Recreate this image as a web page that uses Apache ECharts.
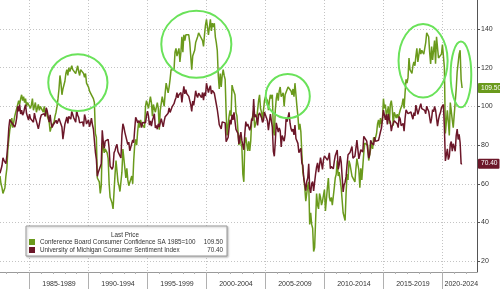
<!DOCTYPE html>
<html><head><meta charset="utf-8">
<script src="https://cdn.jsdelivr.net/npm/echarts@6/dist/echarts.min.js"></script>
<style>html,body{margin:0;padding:0;background:#fff}#c{width:500px;height:289px}</style>
</head><body><div id="c"></div>
<script>
const seriesNames = ['Conference Board Consumer Confidence SA 1985=100', 'University of Michigan Consumer Sentiment Index'];
const startYear = 1982, startMonth = 7;
// Conference Board, monthly from Jul 1982
const cbValues = [
64,60,58,55,56,58,
64,68,78,83,88,90,94,89,92,95,97,99,
100,103,101,104,106,103,105,102,104,100,102,101,
103,99,101,104,98,100,102,97,99,101,98,100,
99,101,97,100,96,98,95,96,92,87,89,88,
90,92,95,97,100,104,109,116,112,106,109,108,
113,117,119,116,120,118,117,121,119,118,120,117,
119,121,118,116,119,118,120,117,115,117,112,113,
110,108,109,106,107,104,102,86,84,63,62,61,
55,59,81,79,76,78,78,76,73,60,53,52,
50,47,56,65,72,73,61,59,56,55,66,78,
77,68,63,68,62,59,59,59,64,60,72,80,
83,80,87,92,89,93,91,90,90,89,100,103,
101,99,100,105,102,95,101,102,97,96,102,99,
88,98,98,105,104,100,107,112,112,107,110,114,
119,119,119,119,128,130,126,128,130,123,128,136,
128,137,134,137,136,138,137,133,126,119,126,127,
129,133,134,136,138,139,136,136,134,131,137,142,
145,141,137,138,145,139,143,141,143,136,133,129,
116,109,117,110,116,119,116,114,97,85,85,95,
98,95,111,109,110,106,97,95,94,80,85,81,
79,65,61,81,84,84,77,82,77,82,93,95,
98,89,89,93,93,103,106,99,97,93,93,103,
105,104,103,98,103,106,104,106,88,85,98,104,
107,103,108,110,105,105,107,100,106,105,105,110,
110,111,108,106,109,105,112,106,100,95,88,91,
87,76,66,63,58,51,52,59,61,39,45,39,
37,25,27,41,55,49,47,55,53,49,51,54,
57,46,52,58,63,53,51,53,49,50,58,63,
65,72,64,66,62,58,59,45,46,41,55,65,
62,72,70,69,64,63,65,61,68,73,72,67,
58,68,62,69,76,81,81,82,80,72,72,78,
81,78,84,82,83,86,91,93,89,94,91,93,
104,99,101,95,95,100,91,101,103,99,90,97,
98,94,96,94,93,98,97,101,104,99,107,114,
112,115,125,119,118,117,121,123,121,126,130,123,
124,130,127,129,128,127,127,133,138,138,136,128,
122,131,124,129,134,122,136,135,125,126,126,127,
132,131,120,86,86,98,92,85,102,101,93,89,
89,90,109,118,117,127,129,114,109.5
];
// University of Michigan, monthly from Jul 1982
const umValues = [
65.4,65.4,69.3,73.4,72.1,71.9,
70.4,74.6,80.8,89.1,93.3,92.2,92.8,90.9,89.9,89.3,91.1,94.2,
100.1,97.4,101.0,96.1,98.1,95.5,96.6,99.1,100.9,96.3,95.7,92.9,
96.0,93.7,93.7,94.6,91.8,96.5,94.0,92.4,92.1,88.4,90.9,93.9,
95.6,95.9,95.1,96.2,94.8,99.3,97.7,94.9,91.9,95.6,91.4,89.1,
90.4,90.2,90.8,92.8,91.1,91.5,93.7,94.4,93.6,89.3,83.1,86.8,
90.8,91.6,94.6,91.2,94.8,94.7,93.4,97.4,97.3,94.1,93.0,91.9,
97.9,95.4,94.3,91.5,90.7,90.6,92.0,89.6,95.8,93.9,90.9,90.5,
93.0,89.5,91.3,93.9,90.6,88.3,88.2,76.4,72.8,63.9,66.0,65.5,
66.8,70.4,87.7,81.8,78.3,82.1,82.9,82.0,83.0,78.3,69.1,68.2,
67.5,68.8,76.0,77.2,79.2,80.4,76.6,76.1,75.6,73.3,85.3,91.0,
89.3,86.6,85.9,85.6,80.3,81.5,77.0,77.3,77.9,82.7,81.2,88.2,
94.3,93.2,91.5,92.6,92.8,91.2,89.0,91.7,91.5,92.7,91.6,95.1,
97.6,95.1,90.3,92.5,89.8,92.7,94.4,96.2,88.9,90.2,88.2,91.0,
89.3,88.5,93.7,92.7,89.4,92.4,94.7,95.3,94.7,96.5,99.2,96.9,
97.4,99.7,100.0,101.4,103.2,104.5,107.1,104.4,106.0,105.6,107.2,102.1,
106.6,110.4,106.5,108.7,106.5,105.6,105.2,104.4,100.9,97.4,102.7,100.5,
103.9,108.1,105.7,104.6,106.8,107.3,106.0,104.5,107.2,103.2,107.2,105.4,
112.0,111.3,107.1,109.2,110.7,106.4,108.3,107.3,106.8,105.8,107.6,98.4,
94.7,90.6,91.5,88.4,92.0,92.6,92.4,91.5,81.8,82.7,83.9,88.8,
93.0,90.7,95.7,93.0,96.9,92.4,88.1,87.6,86.1,80.6,84.2,86.7,
82.4,79.9,77.6,86.0,92.1,89.7,90.9,89.3,87.7,89.6,93.7,92.6,
103.8,94.4,95.8,94.2,90.2,95.6,96.7,95.9,94.2,91.7,92.8,97.1,
95.5,94.1,92.6,87.7,86.9,96.0,96.5,89.1,76.9,74.2,81.6,91.5,
91.2,86.7,88.9,87.4,79.1,84.9,84.7,82.0,85.4,93.6,92.1,91.7,
96.9,91.3,88.4,87.1,88.3,85.3,90.4,83.4,83.4,80.9,76.1,75.5,
78.4,70.8,69.5,62.6,59.8,56.4,61.2,63.0,70.3,57.6,55.3,60.1,
61.2,56.3,57.3,65.1,68.7,70.8,66.0,65.7,73.5,70.6,67.4,72.5,
74.4,73.6,73.6,72.2,73.6,76.0,67.8,68.9,68.2,67.7,71.6,74.5,
74.2,77.5,67.5,69.8,74.3,71.5,63.7,55.8,59.5,60.8,63.7,69.9,
75.0,75.3,76.2,76.4,79.3,73.2,72.3,74.3,78.3,82.6,82.7,72.9,
73.8,77.6,78.6,76.4,84.5,84.1,85.1,82.1,77.5,73.2,75.1,82.5,
81.2,81.6,80.0,84.1,81.9,82.5,81.8,82.5,84.6,86.9,88.8,93.6,
98.1,95.4,93.0,95.9,90.7,96.1,93.1,91.9,87.2,90.0,91.3,92.6,
92.0,91.7,91.0,89.0,94.7,93.5,90.0,89.8,91.2,87.2,93.8,98.2,
98.5,96.3,96.9,97.0,97.1,95.0,93.4,96.8,95.1,100.7,98.5,95.9,
95.7,99.7,101.4,98.8,98.0,98.2,97.9,96.2,100.1,98.6,97.5,98.3,
91.2,93.8,98.4,97.2,100.0,98.2,98.4,89.8,93.2,95.5,96.8,99.3,
99.8,101.0,89.1,71.8,72.3,78.1,72.5,74.1,80.4,81.8,76.9,80.7,
79.0,76.8,84.9,88.3,82.9,85.5,81.2,70.3,70.4
];
const periodStarts = [1985,1990,1995,2000,2005,2010,2015,2020];
const periodLabelAt = [1987.5,1992.5,1997.5,2002.5,2007.5,2012.5,2017.5,2021.6];
const yearTicks = [1983,1984,1985,1986,1987,1988,1989,1990,1991,1992,1993,1994,1995,1996,1997,1998,1999,2000,2001,2002,2003,2004,2005,2006,2007,2008,2009,2010,2011,2012,2013,2014,2015,2016,2017,2018,2019,2020,2021,2022];
const yTicks = [20,40,60,80,100,120,140];
// highlighted regions in data units: [centreYear, centreValue, halfWidthYears, halfHeightValue]
const rings = [[1989.1,112.3,2.51,14.7],[1999.14,132.1,2.97,17.3],[2006.89,105.3,1.87,11.4],[2018.36,123.6,2.08,19.0],[2021.57,116.5,0.875,17.0]];

const GREEN = '#6a9a1c', MAROON = '#6c1729';
const FONT = '"Liberation Sans", Arial, sans-serif';
const FS = 6.3;
const toPts = vals => vals.map((v, i) => [startYear + (startMonth - 1 + i) / 12, v]);
const cbLast = cbValues[cbValues.length - 1], umLast = umValues[umValues.length - 1];
const lastTxt = { [seriesNames[0]]: cbLast.toFixed(2), [seriesNames[1]]: umLast.toFixed(2) };

const chart = echarts.init(document.getElementById('c'), null, { renderer: 'canvas' });
const xMin = 1982.5, xMax = 2022.93, yMin = 14.4, yMax = 155;
function tag(val, bg) {
  return {
    symbol: 'none', silent: true, animation: false,
    lineStyle: { color: 'rgba(0,0,0,0)', width: 0 },
    label: { show: true, position: 'end', distance: 1, formatter: val.toFixed(2), color: '#fff',
      backgroundColor: bg, padding: [2, 2, 1, 3], borderRadius: 1, fontSize: 6.6, fontFamily: FONT, opacity: 1 },
    emphasis: { disabled: true },
    data: [{ yAxis: val }]
  };
}
chart.setOption({
  animation: false,
  textStyle: { fontFamily: FONT },
  grid: { left: 0, right: 23, top: 0, bottom: 17, containLabel: false },
  xAxis: [{
    type: 'value', min: xMin, max: xMax,
    axisLine: { show: true, lineStyle: { color: '#9a9a9a', width: 1 } },
    axisTick: { show: true, customValues: periodStarts, length: 17, lineStyle: { color: '#b0b0b0' } },
    axisLabel: { show: true, customValues: periodLabelAt, margin: 9, fontSize: 7, color: '#333',
      formatter: v => { const s = Math.floor(v / 5) * 5; return s + '-' + (s + 4); } },
    splitLine: { show: true, lineStyle: { color: '#c4c4c4', type: [1, 2] } }
  }, {
    type: 'value', min: xMin, max: xMax, position: 'bottom',
    axisLine: { show: false },
    axisTick: { show: true, customValues: yearTicks, length: 2, lineStyle: { color: '#b0b0b0' } },
    axisLabel: { show: false }, splitLine: { show: false }
  }],
  yAxis: {
    type: 'value', position: 'right', min: yMin, max: yMax,
    axisLine: { show: true, lineStyle: { color: '#555', width: 1 } },
    axisTick: { show: true, customValues: yTicks, length: 3, lineStyle: { color: '#555' } },
    axisLabel: { show: true, customValues: yTicks, margin: 4, fontSize: 7, color: '#333' },
    splitLine: { show: true, lineStyle: { color: '#c4c4c4', type: [1, 2] } }
  },
  legend: {
    show: true, orient: 'vertical', left: 26, top: 226,
    padding: [13, 4, 3, 3], itemGap: 2, itemWidth: 6, itemHeight: 6,
    icon: 'rect', backgroundColor: '#fff', borderColor: '#9a9a9a', borderWidth: 1,
    shadowColor: 'rgba(0,0,0,0.25)', shadowBlur: 2, shadowOffsetX: 1, shadowOffsetY: 1,
    data: seriesNames, selectedMode: false,
    formatter: n => '{n|' + n + '}{v|' + lastTxt[n] + '}',
    textStyle: { fontSize: FS, color: '#333', rich: {
      n: { width: 161, fontSize: FS, color: '#333' },
      v: { width: 22, align: 'right', fontSize: FS, color: '#333' } } }
  },
  series: [{
    name: seriesNames[0], type: 'line', data: toPts(cbValues), showSymbol: false,
    color: GREEN, lineStyle: { color: GREEN, width: 1.5 }, z: 3, markLine: tag(cbLast, GREEN)
  }, {
    name: seriesNames[1], type: 'line', data: toPts(umValues), showSymbol: false,
    color: MAROON, lineStyle: { color: MAROON, width: 1.5 }, z: 4, markLine: tag(umLast, MAROON)
  }]
});

const graphics = rings.map((r, i) => {
  const c = chart.convertToPixel({ gridIndex: 0 }, [r[0], r[1]]);
  const e = chart.convertToPixel({ gridIndex: 0 }, [r[0] + r[2], r[1] + r[3]]);
  return { type: 'ellipse', id: 'ring' + i, silent: true, z: 100,
    shape: { cx: c[0], cy: c[1], rx: Math.abs(e[0] - c[0]), ry: Math.abs(e[1] - c[1]) },
    style: { fill: 'none', stroke: '#6ae25a', lineWidth: 2 } };
});
graphics.push({ type: 'text', id: 'lpHead', z: 200, x: 125, y: 235, silent: true,
  style: { text: 'Last Price', fontSize: FS, fill: '#333', fontFamily: FONT, align: 'center', verticalAlign: 'middle' } });
chart.setOption({ graphic: graphics });
</script></body></html>
